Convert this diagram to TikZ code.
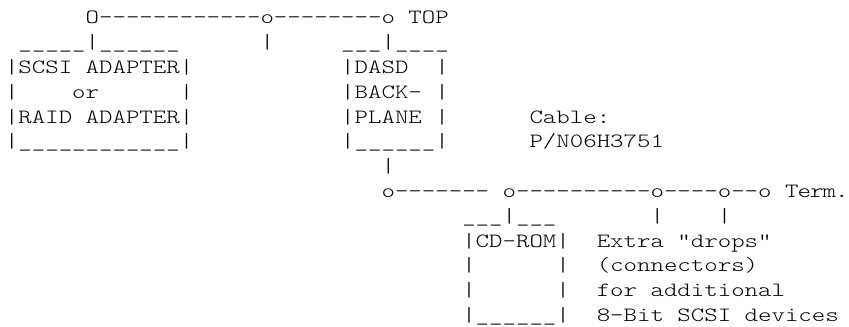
\documentclass[tikz,border=0pt]{standalone}
\usepackage{fontspec}
\setmonofont[FakeStretch=1.264]{Latin Modern Mono Light}
\tikzset{ln/.style={anchor=base west,inner sep=0pt,outer sep=0pt,font=\ttfamily\fontsize{15.2pt}{15.2pt}\selectfont}}
\newcommand{\asciirow}[1]{\begingroup\catcode32=12 \catcode95=12 \asciirowb{#1}}
\newcommand{\asciirowb}[2]{\node[ln] (row#1) at (5,{-24-24.8*#1}) {#2};\endgroup}
\newcommand{\tk}{\kern-.7pt\relax}
\begin{document}
\begin{tikzpicture}[x=0.75pt,y=0.75pt]
\useasboundingbox (0,0) rectangle (849,-327);
\asciirow{0}{      O------------o--------o TOP}
\asciirow{1}{ _____|______      |     ___|____}
\asciirow{2}{|SCSI ADAPTER|           |DASD  |}
\asciirow{3}{|    or      |           |BACK- |}
\asciirow{4}{|RAID ADAPTER|           |PLANE |      Cable:}
\asciirow{5}{|____________|           |______|      P/N06H3751}
\asciirow{6}{                            |}
\asciirow{7}{                            o------- o----------o----o--o T\tk{}e\tk{}r\tk{}m\tk{}.}
\asciirow{8}{                                  ___|___       |    |}
\asciirow{9}{                                  |CD-ROM|  Extra "drops"}
\asciirow{10}{                                  |      |  (connectors)}
\asciirow{11}{                                  |      |  for additional}
\asciirow{12}{                                  |______|  8-Bit SCSI devices}
\end{tikzpicture}
\end{document}
